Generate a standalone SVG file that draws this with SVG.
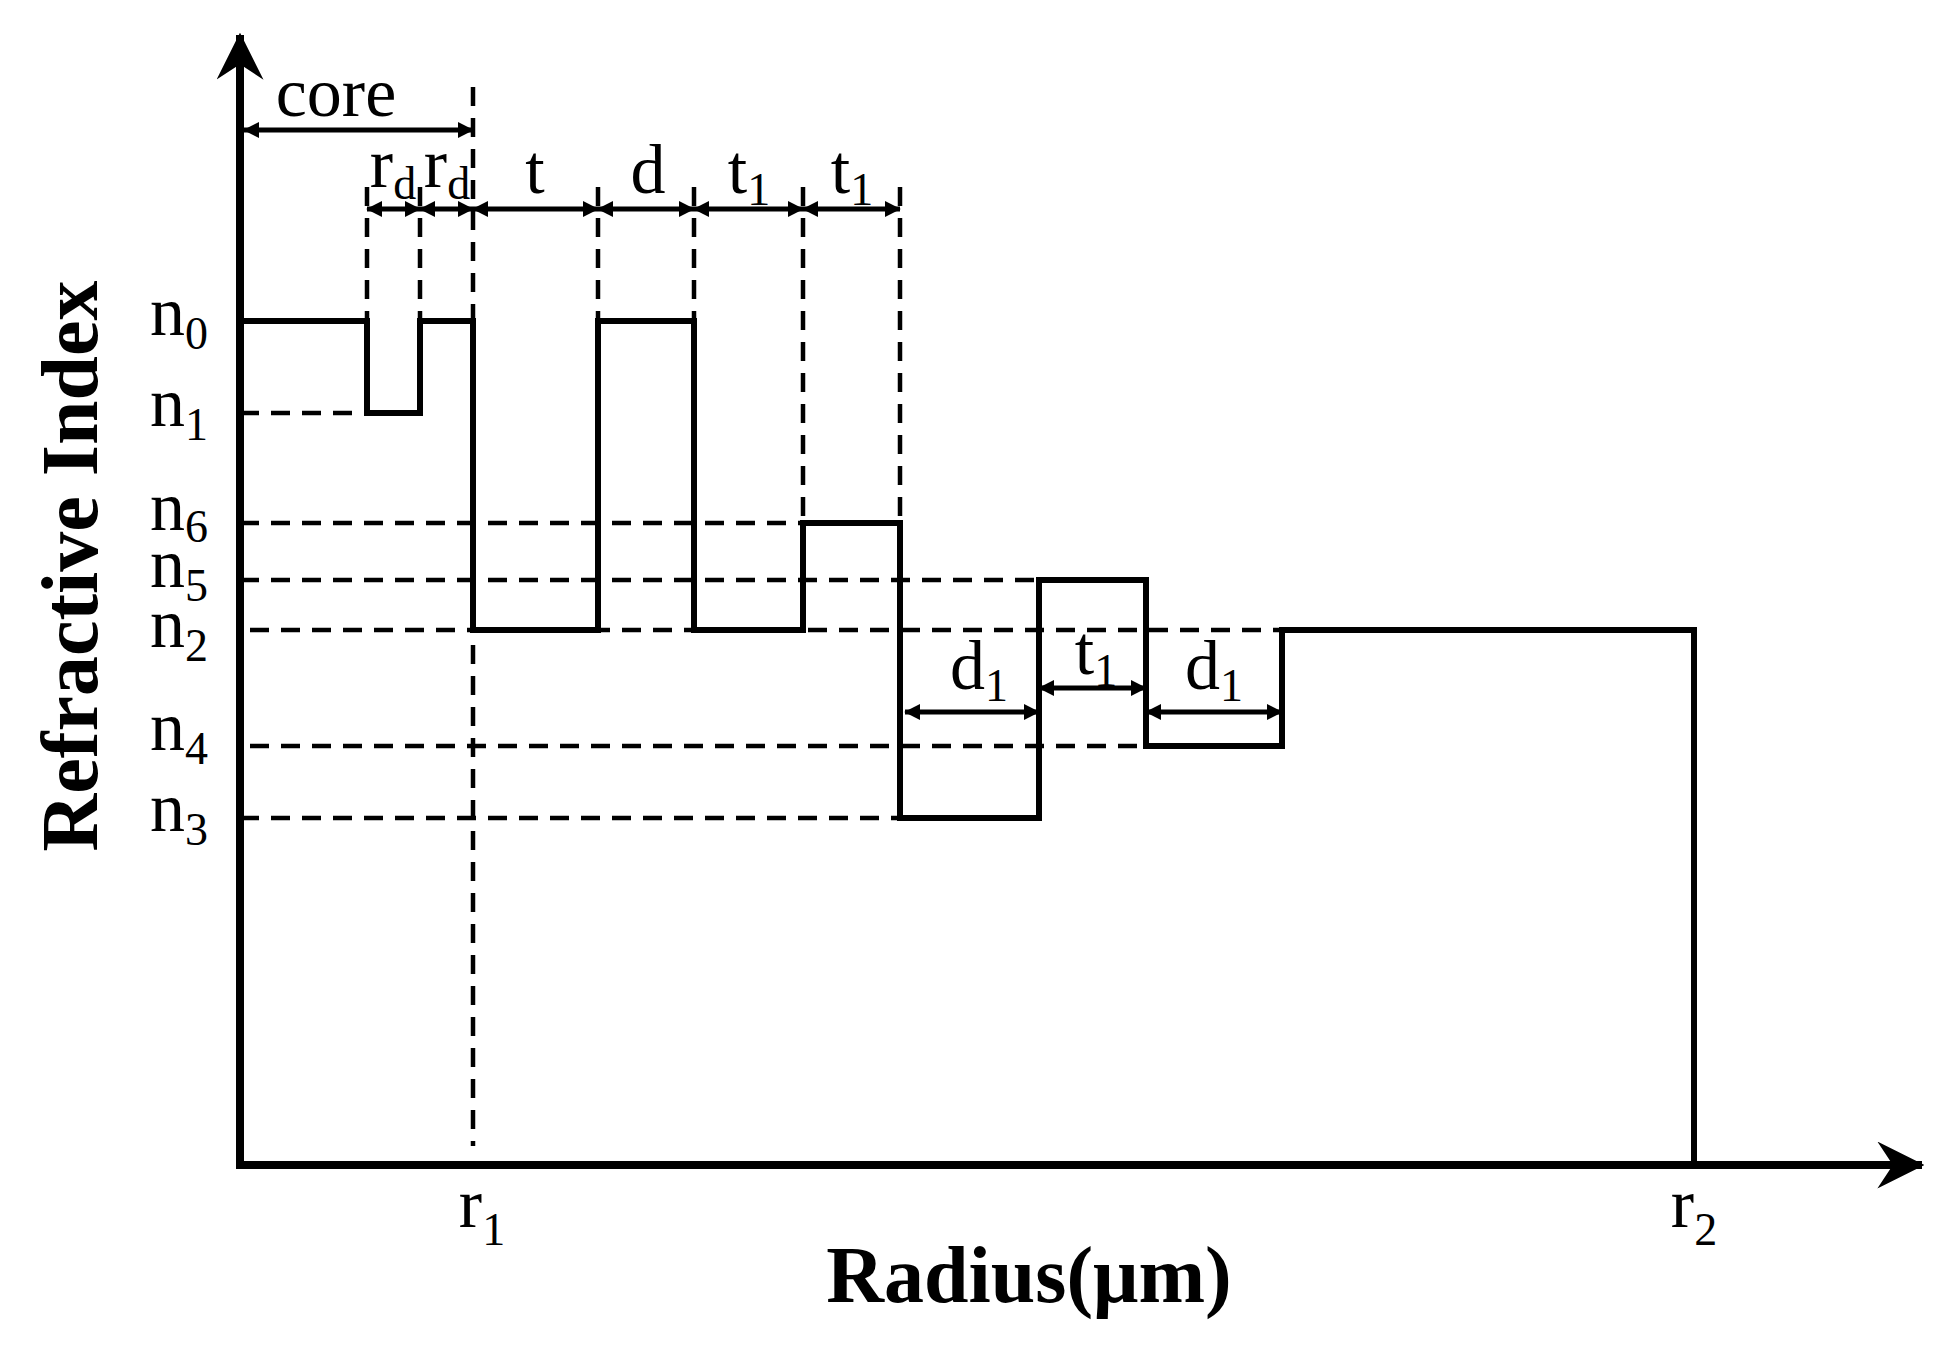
<svg xmlns="http://www.w3.org/2000/svg" width="1953" height="1360" viewBox="0 0 1953 1360">
<style>
.ax{stroke:#000;stroke-width:8;fill:none}
.st{stroke:#000;stroke-width:6;fill:none;stroke-linejoin:miter}
.ds{stroke:#000;stroke-width:4.5;fill:none;stroke-dasharray:19 12}
.dim{stroke:#000;stroke-width:5;fill:none}
text{font-family:"Liberation Serif","Times New Roman",serif;fill:#000}
.lb{font-size:70px}
.sb{font-size:46px}
.tt{font-size:80px;font-weight:bold}
</style>
<defs>
<marker id="axh" viewBox="0 0 10 10" refX="9.5" refY="5" markerWidth="47" markerHeight="47" markerUnits="userSpaceOnUse" orient="auto">
<path d="M0,0 L10,5 L0,10 L3.3,5 z" fill="#000"/>
</marker>
<marker id="dh" viewBox="0 0 10 10" refX="9.5" refY="5" markerWidth="16" markerHeight="19" markerUnits="userSpaceOnUse" orient="auto-start-reverse">
<path d="M0,0 L10,5 L0,10 z" fill="#000"/>
</marker>
</defs>
<rect width="1953" height="1360" fill="#fff"/>

<g id="guides">
<line class="ds" x1="240" y1="413" x2="367" y2="413"/>
<line class="ds" x1="240" y1="523" x2="803" y2="523"/>
<line class="ds" x1="240" y1="580" x2="1039" y2="580"/>
<line class="ds" x1="250" y1="630" x2="1282" y2="630"/>
<line class="ds" x1="250" y1="746" x2="1146" y2="746"/>
<line class="ds" x1="240" y1="818" x2="900" y2="818"/>
<line class="ds" x1="367" y1="187" x2="367" y2="321"/>
<line class="ds" x1="420" y1="187" x2="420" y2="321"/>
<line class="ds" x1="473" y1="87" x2="473" y2="1146"/>
<line class="ds" x1="598" y1="187" x2="598" y2="321"/>
<line class="ds" x1="694" y1="187" x2="694" y2="321"/>
<line class="ds" x1="803" y1="187" x2="803" y2="523"/>
<line class="ds" x1="900" y1="187" x2="900" y2="523"/>
</g>

<g id="profile">
<path class="st" d="M240,321 H367 V413 H420 V321 H473 V630 H598 V321 H694 V630 H803 V523 H900 V818 H1039 V580 H1146 V746 H1282 V630 H1694 V1165"/>
</g>

<g id="axes">
<line class="ax" x1="240" y1="1169" x2="240" y2="35" marker-end="url(#axh)"/>
<line class="ax" x1="236" y1="1165" x2="1922" y2="1165" marker-end="url(#axh)"/>
</g>

<g id="connectors">
<line class="dim" x1="244" y1="130" x2="473" y2="130" marker-start="url(#dh)" marker-end="url(#dh)"/>
<line class="dim" x1="367" y1="209" x2="420" y2="209" marker-start="url(#dh)" marker-end="url(#dh)"/>
<line class="dim" x1="420" y1="209" x2="473" y2="209" marker-start="url(#dh)" marker-end="url(#dh)"/>
<line class="dim" x1="473" y1="209" x2="598" y2="209" marker-start="url(#dh)" marker-end="url(#dh)"/>
<line class="dim" x1="598" y1="209" x2="694" y2="209" marker-start="url(#dh)" marker-end="url(#dh)"/>
<line class="dim" x1="694" y1="209" x2="803" y2="209" marker-start="url(#dh)" marker-end="url(#dh)"/>
<line class="dim" x1="803" y1="209" x2="900" y2="209" marker-start="url(#dh)" marker-end="url(#dh)"/>
<line class="dim" x1="905" y1="712" x2="1039" y2="712" marker-start="url(#dh)" marker-end="url(#dh)"/>
<line class="dim" x1="1039" y1="688" x2="1146" y2="688" marker-start="url(#dh)" marker-end="url(#dh)"/>
<line class="dim" x1="1146" y1="712" x2="1282" y2="712" marker-start="url(#dh)" marker-end="url(#dh)"/>
</g>

<g id="dim-labels" text-anchor="middle">
<text class="lb" x="336" y="116">core</text>
<text class="lb" x="393" y="187">r<tspan class="sb" dy="12">d</tspan></text>
<text class="lb" x="447" y="187">r<tspan class="sb" dy="12">d</tspan></text>
<text class="lb" x="535" y="193">t</text>
<text class="lb" x="648" y="193">d</text>
<text class="lb" x="749" y="193">t<tspan class="sb" dy="12">1</tspan></text>
<text class="lb" x="852" y="193">t<tspan class="sb" dy="12">1</tspan></text>
<text class="lb" x="979" y="689">d<tspan class="sb" dy="12">1</tspan></text>
<text class="lb" x="1096" y="674">t<tspan class="sb" dy="12">1</tspan></text>
<text class="lb" x="1214" y="689">d<tspan class="sb" dy="12">1</tspan></text>
</g>

<g id="level-labels">
<text class="lb" x="150" y="335">n<tspan class="sb" dy="14">0</tspan></text>
<text class="lb" x="150" y="426">n<tspan class="sb" dy="14">1</tspan></text>
<text class="lb" x="150" y="530">n<tspan class="sb" dy="12">6</tspan></text>
<text class="lb" x="150" y="587">n<tspan class="sb" dy="14">5</tspan></text>
<text class="lb" x="150" y="647">n<tspan class="sb" dy="14">2</tspan></text>
<text class="lb" x="150" y="750">n<tspan class="sb" dy="14">4</tspan></text>
<text class="lb" x="150" y="831">n<tspan class="sb" dy="14">3</tspan></text>
</g>

<g id="axis-labels" text-anchor="middle">
<text class="lb" x="482" y="1227">r<tspan class="sb" dy="18">1</tspan></text>
<text class="lb" x="1694" y="1227">r<tspan class="sb" dy="18">2</tspan></text>
<text class="tt" x="1029" y="1302">Radius(μm)</text>
<text class="tt" transform="translate(97,566) rotate(-90)" x="0" y="0">Refractive Index</text>
</g>
</svg>
